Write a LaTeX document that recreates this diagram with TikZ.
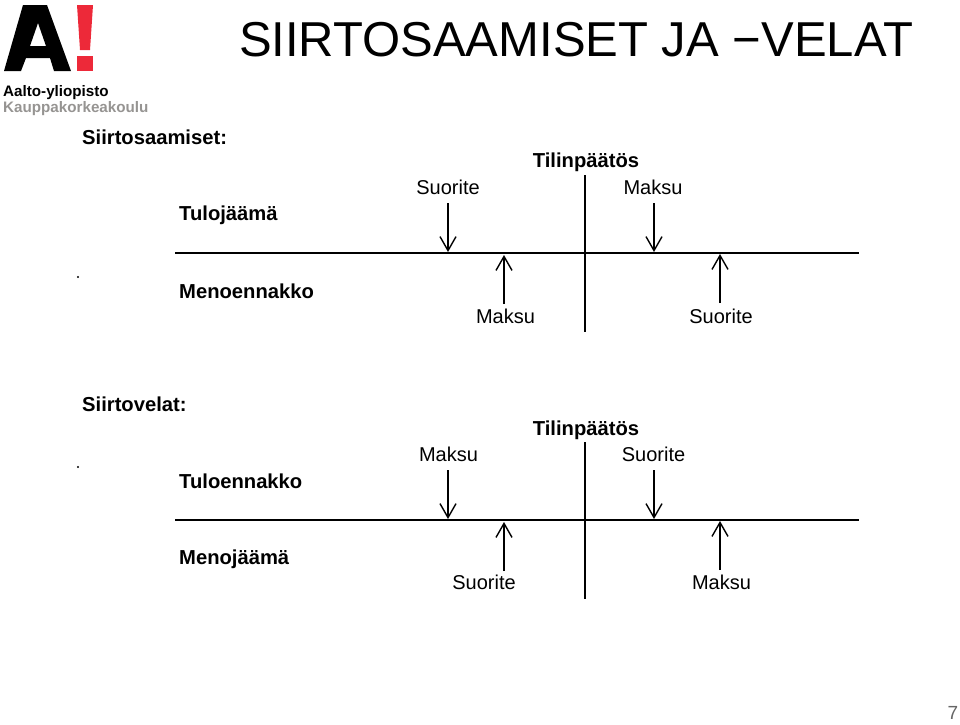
\documentclass[tikz,border=0pt]{standalone}
\usepackage{fontspec}
\setmainfont{Liberation Sans}
\usetikzlibrary{arrows.meta}
\definecolor{aaltored}{RGB}{237,41,57}
\definecolor{aaltogray}{RGB}{150,148,146}
\tikzset{
	lab/.style={inner sep=0pt,font=\fontsize{20}{22}\selectfont},
	bold/.style={lab,font=\fontsize{20.2}{22}\selectfont\bfseries},
	axis/.style={line width=2pt},
	flow/.style={line width=1.4pt,-{Straight Barb[length=14pt,width=16pt,line width=1.4pt]}},
	logotxt/.style={inner sep=0pt,anchor=west,font=\fontsize{15.2}{16}\selectfont\bfseries},
}
\begin{document}
\begin{tikzpicture}[x=1pt,y=-1pt]
	\useasboundingbox (0,0) rectangle (960,724);
	% logo
	\fill[even odd rule] (23,5) -- (47,5) -- (71,71) -- (54,71) -- (50,58) -- (26,58) -- (21,71) -- (4,71) -- cycle
		(38,23) -- (30,46) -- (46,46) -- cycle;
	\fill[aaltored] (77,5) -- (93,5) -- (90,50) -- (80,50) -- cycle;
	\fill[aaltored] (77,56) rectangle (93,71);
	\node[logotxt] (aalto) at (3,92.5) {Aalto-yliopisto};
	\node[logotxt,text=aaltogray] (kauppa) at (3,108.5) {Kauppakorkeakoulu};
	\node[inner sep=0pt,font=\fontsize{49}{54}\selectfont] (title) at (576,40) {SIIRTOSAAMISET JA −VELAT};
	\node[inner sep=0pt,font=\fontsize{19}{22}\selectfont,text=black!60] (page) at (953,713) {7};
	% siirtosaamiset
	\node[bold,anchor=west] (saam) at (82,137) {Siirtosaamiset:};
	\node[bold,anchor=west] (tuloj) at (179,215) {Tulojäämä};
	\node[bold,anchor=west] (menoe) at (179,291) {Menoennakko};
	\node[bold] (tp1) at (586,162) {Tilinpäätös};
	\node[lab] (s1) at (448,187.5) {Suorite};
	\node[lab] (m1) at (653,187.5) {Maksu};
	\node[lab] (m2) at (505.5,316.5) {Maksu};
	\node[lab] (s2) at (721,316.5) {Suorite};
	\fill (78,277) circle (1.2pt);
	\coordinate (h1a) at (175,253);
	\coordinate (h1b) at (859,253);
	\coordinate (v1a) at (585,175);
	\coordinate (v1b) at (585,332);
	\coordinate (a1a) at (448,203);
	\coordinate (a1b) at (448,252);
	\coordinate (a2a) at (654,203);
	\coordinate (a2b) at (654,252);
	\coordinate (a3a) at (504,304);
	\coordinate (a3b) at (504,255);
	\coordinate (a4a) at (720,303);
	\coordinate (a4b) at (720,254);
	 \draw[axis] (h1a) -- (h1b);
	 \draw[axis] (v1a) -- (v1b);
	 \draw[flow] (a1a) -- (a1b);
	 \draw[flow] (a2a) -- (a2b);
	 \draw[flow] (a3a) -- (a3b);
	 \draw[flow] (a4a) -- (a4b);
	% siirtovelat
	\node[bold,anchor=west] (velat) at (82,404) {Siirtovelat:};
	\node[bold,anchor=west] (tuloe) at (179,481) {Tuloennakko};
	\node[bold,anchor=west] (menoj) at (179,559) {Menojäämä};
	\node[bold] (tp2) at (586,430) {Tilinpäätös};
	\node[lab] (m3) at (448.5,454.5) {Maksu};
	\node[lab] (s3) at (653.5,454.5) {Suorite};
	\node[lab] (s4) at (484,582.5) {Suorite};
	\node[lab] (m4) at (721.5,582.5) {Maksu};
	\fill (78,467) circle (1.2pt);
	\coordinate (h2a) at (175,520);
	\coordinate (h2b) at (859,520);
	\coordinate (v2a) at (585,442);
	\coordinate (v2b) at (585,599);
	\coordinate (b1a) at (448,470);
	\coordinate (b1b) at (448,519);
	\coordinate (b2a) at (654,470);
	\coordinate (b2b) at (654,519);
	\coordinate (b3a) at (504,571);
	\coordinate (b3b) at (504,522);
	\coordinate (b4a) at (720,570);
	\coordinate (b4b) at (720,521);
	 \draw[axis] (h2a) -- (h2b);
	 \draw[axis] (v2a) -- (v2b);
	 \draw[flow] (b1a) -- (b1b);
	 \draw[flow] (b2a) -- (b2b);
	 \draw[flow] (b3a) -- (b3b);
	 \draw[flow] (b4a) -- (b4b);
\end{tikzpicture}
\end{document}
